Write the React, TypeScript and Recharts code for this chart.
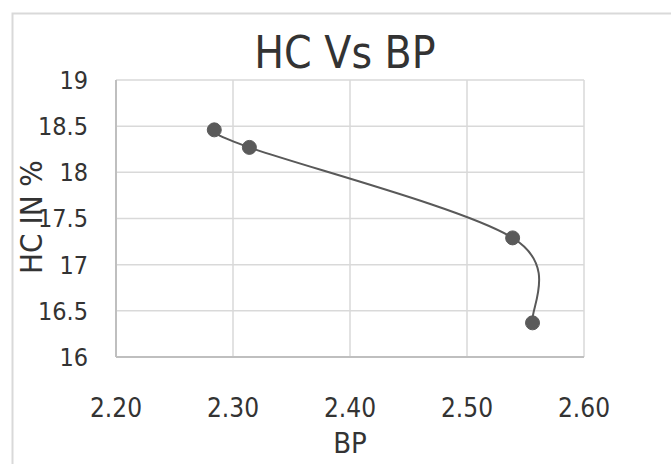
import React from 'react';
import { ComposedChart, Line, XAxis, YAxis, CartesianGrid, Customized } from 'recharts';

const bpValues = [2.284, 2.314, 2.539, 2.556];
const hcValues = [18.46, 18.27, 17.29, 16.37];
const xTicks = [2.2, 2.3, 2.4, 2.5, 2.6];
const yTicks = [16, 16.5, 17, 17.5, 18, 18.5, 19];
const titleText = 'HC Vs BP';
const xLabel = 'BP';
const yLabel = 'HC IN %';

const data = bpValues.map((x, i) => ({ x, y: hcValues[i] }));

const FONT = '"Liberation Sans Narrow", "DejaVu Sans Condensed", "Liberation Sans", sans-serif';

// Excel-like smoothed line (Catmull-Rom as cubic Bezier)
function excelSmooth(context: any) {
  let pts: [number, number][] = [];
  let areaMode = false;
  return {
    areaStart() { areaMode = true; },
    areaEnd() { areaMode = false; },
    lineStart() { pts = []; },
    point(x: number, y: number) { pts.push([+x, +y]); },
    lineEnd() {
      const n = pts.length;
      if (n === 0) return;
      context.moveTo(pts[0][0], pts[0][1]);
      if (n === 1) return;
      for (let i = 0; i < n - 1; i++) {
        const p0 = pts[i - 1] || pts[i];
        const p1 = pts[i];
        const p2 = pts[i + 1];
        const p3 = pts[i + 2] || pts[i + 1];
        const c1x = p1[0] + (p2[0] - p0[0]) / 6;
        const c1y = p1[1] + (p2[1] - p0[1]) / 6;
        const c2x = p2[0] - (p3[0] - p1[0]) / 6;
        const c2y = p2[1] - (p3[1] - p1[1]) / 6;
        context.bezierCurveTo(c1x, c1y, c2x, c2y, p2[0], p2[1]);
      }
      if (areaMode) context.closePath();
    },
  };
}

const Overlay = () => (
  <g>
    <text x={345} y={68} textAnchor="middle" fontFamily={FONT} fontSize={44} fill="#333">{titleText}</text>
    <text x={350} y={453} textAnchor="middle" fontFamily={FONT} fontSize={29} fill="#333">{xLabel}</text>
    <text transform="translate(42,217) rotate(-90)" textAnchor="middle" fontFamily={FONT} fontSize={31} fill="#333">{yLabel}</text>
  </g>
);

export default function App() {
  return (
    <div style={{ position: 'absolute', left: 0, top: 0, width: 671, height: 464, background: '#fff' }}>
      <svg width={671} height={464} style={{ position: 'absolute', left: 0, top: 0 }}>
        <rect x={12.5} y={13.5} width={670} height={470} fill="none" stroke="#d9d9d9" strokeWidth={2} />
      </svg>
      <div style={{ position: 'absolute', left: 0, top: 0 }}>
        <ComposedChart width={671} height={464} data={data} margin={{ top: 80, right: 87, bottom: 47, left: 56 }}>
          <CartesianGrid stroke="#d9d9d9" strokeWidth={1.5} />
          <XAxis
            type="number"
            dataKey="x"
            domain={[2.2, 2.6]}
            ticks={xTicks}
            tickFormatter={(v: number) => v.toFixed(2)}
            height={60}
            tickLine={false}
            tickSize={0}
            tickMargin={42}
            axisLine={{ stroke: '#bfbfbf', strokeWidth: 2 }}
            tick={{ fontFamily: FONT, fontSize: 26, fill: '#333' }}
            interval={0}
          />
          <YAxis
            type="number"
            domain={[16, 19]}
            ticks={yTicks}
            width={60}
            tickLine={false}
            tickSize={0}
            tickMargin={28}
            axisLine={{ stroke: '#bfbfbf', strokeWidth: 2 }}
            tick={{ fontFamily: FONT, fontSize: 25, fill: '#333' }}
            interval={0}
          />
          <Line
            type={excelSmooth as any}
            dataKey="y"
            stroke="#595959"
            strokeWidth={2}
            dot={{ r: 7, fill: '#5a5a5a', stroke: '#5a5a5a', strokeWidth: 1 }}
            activeDot={false}
            isAnimationActive={false}
          />
          <Customized component={Overlay} />
        </ComposedChart>
      </div>
    </div>
  );
}
